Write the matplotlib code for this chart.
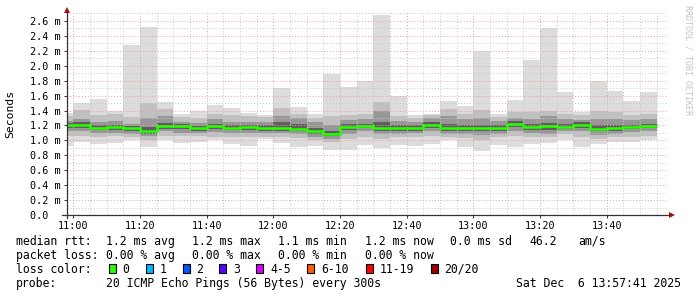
import numpy as np
import matplotlib
matplotlib.use("Agg")
import matplotlib.pyplot as plt
from matplotlib.patches import Rectangle
from matplotlib.ticker import MultipleLocator, FixedLocator

# %%
# smokeping data, 5 minute slots (minutes after 11:00, slot start)
slot_start = [-5, 0, 5, 10, 15, 20, 25, 30, 35, 40, 45, 50,
              55, 60, 65, 70, 75, 80, 85, 90, 95, 100, 105, 110,
              115, 120, 125, 130, 135, 140, 145, 150, 155, 160, 165, 170]
slot_len = 5

# rtt in ms (outer smoke -> inner smoke)
smoke_hi = [1.37, 1.50, 1.555, 1.39, 2.28, 2.52, 1.515, 1.35, 1.40, 1.475, 1.44, 1.37,
            1.34, 1.70, 1.45, 1.35, 1.89, 1.71, 1.80, 2.68, 1.60, 1.34, 1.35, 1.53,
            1.46, 2.20, 1.35, 1.54, 2.08, 2.51, 1.65, 1.38, 1.80, 1.66, 1.53, 1.65]
smoke_qh = [1.33, 1.41, 1.34, 1.35, 1.31, 1.50, 1.42, 1.31, 1.30, 1.36, 1.34, 1.33,
            1.31, 1.43, 1.36, 1.30, 1.32, 1.34, 1.36, 1.52, 1.33, 1.30, 1.34, 1.42,
            1.36, 1.41, 1.31, 1.38, 1.38, 1.40, 1.36, 1.34, 1.40, 1.38, 1.34, 1.35]
smoke_dh = [1.26, 1.28, 1.25, 1.26, 1.22, 1.30, 1.32, 1.25, 1.23, 1.28, 1.25, 1.24,
            1.25, 1.33, 1.30, 1.24, 1.20, 1.27, 1.28, 1.40, 1.26, 1.24, 1.30, 1.32,
            1.28, 1.30, 1.26, 1.30, 1.29, 1.32, 1.29, 1.27, 1.28, 1.28, 1.27, 1.28]
smoke_ch = [1.23, 1.24, 1.20, 1.21, 1.19, 1.18, 1.23, 1.22, 1.19, 1.22, 1.20, 1.20,
            1.20, 1.25, 1.22, 1.17, 1.13, 1.22, 1.22, 1.25, 1.20, 1.20, 1.25, 1.22,
            1.21, 1.21, 1.21, 1.26, 1.22, 1.23, 1.22, 1.24, 1.20, 1.21, 1.21, 1.22]
median = [1.21, 1.21, 1.17, 1.18, 1.16, 1.125, 1.19, 1.19, 1.16, 1.19, 1.17, 1.175,
          1.165, 1.17, 1.155, 1.12, 1.085, 1.18, 1.19, 1.17, 1.16, 1.17, 1.21, 1.17,
          1.16, 1.16, 1.165, 1.22, 1.18, 1.19, 1.18, 1.21, 1.155, 1.17, 1.18, 1.19]
smoke_cl = [1.16, 1.17, 1.14, 1.14, 1.13, 1.09, 1.15, 1.15, 1.13, 1.15, 1.14, 1.14,
            1.13, 1.13, 1.12, 1.09, 1.06, 1.14, 1.16, 1.13, 1.12, 1.13, 1.17, 1.13,
            1.12, 1.12, 1.12, 1.18, 1.14, 1.14, 1.15, 1.17, 1.12, 1.13, 1.15, 1.16]
smoke_dl = [1.12, 1.12, 1.10, 1.10, 1.09, 1.06, 1.12, 1.10, 1.10, 1.11, 1.10, 1.10,
            1.10, 1.10, 1.09, 1.05, 1.02, 1.09, 1.12, 1.08, 1.08, 1.10, 1.12, 1.09,
            1.08, 1.07, 1.09, 1.12, 1.10, 1.09, 1.12, 1.12, 1.07, 1.09, 1.11, 1.12]
smoke_ql = [1.06, 1.06, 1.05, 1.06, 1.04, 1.01, 1.06, 1.06, 1.06, 1.05, 1.04, 1.04,
            1.05, 1.04, 1.03, 1.00, 0.98, 1.02, 1.05, 1.02, 1.04, 1.05, 1.06, 1.05,
            1.03, 1.01, 1.04, 1.06, 1.05, 1.04, 1.08, 1.05, 1.02, 1.04, 1.05, 1.06]
smoke_lo = [0.93, 0.98, 0.95, 0.96, 1.005, 0.915, 1.005, 0.97, 0.98, 1.005, 0.95, 0.925,
            1.02, 0.97, 0.915, 0.93, 0.87, 0.87, 0.94, 0.90, 0.94, 0.925, 0.95, 1.00,
            0.915, 0.86, 0.94, 0.915, 0.95, 0.96, 1.005, 0.915, 0.945, 0.98, 0.98, 1.005]

x_ticks = [0, 20, 40, 60, 80, 100, 120, 140, 160]
x_labels = ["11:00", "11:20", "11:40", "12:00", "12:20", "12:40", "13:00", "13:20", "13:40"]
y_ticks = [0.0, 0.2, 0.4, 0.6, 0.8, 1.0, 1.2, 1.4, 1.6, 1.8, 2.0, 2.2, 2.4, 2.6]
y_labels = ["0.0  ", "0.2 m", "0.4 m", "0.6 m", "0.8 m", "1.0 m", "1.2 m",
            "1.4 m", "1.6 m", "1.8 m", "2.0 m", "2.2 m", "2.4 m", "2.6 m"]

loss_names = ["0", "1", "2", "3", "4-5", "6-10", "11-19", "20/20"]
loss_colors = ["#26ff00", "#00b8ff", "#0059ff", "#5e00ff", "#dd00ff", "#ff5e00", "#ff0000", "#a10000"]

# %%
W, H = 697, 297
mono = "DejaVu Sans Mono"
fig = plt.figure(figsize=(W / 100, H / 100), dpi=100)
fig.patch.set_facecolor("white")

# plot area in pixels
px_l, px_r, px_t, px_b = 67, 668, 12, 215
ax = fig.add_axes([px_l / W, 1 - px_b / H, (px_r - px_l) / W, (px_b - px_t) / H])
ax.set_xlim(-1.9, 178.4)
ax.set_ylim(0, 2.72)

edges = slot_start + [slot_start[-1] + slot_len]

# smoke layers, light outside to dark inside
layers = [(smoke_hi, smoke_lo, "#dcdcdc"),
          (smoke_qh, smoke_ql, "#c0c0c0"),
          (smoke_dh, smoke_dl, "#979797"),
          (smoke_ch, smoke_cl, "#5f5f5f")]
for top, bot, col in layers:
    ax.stairs(top, edges, baseline=bot, fill=True, color=col, lw=0, zorder=1)

ax.stairs(median, edges, baseline=None, color=loss_colors[0], lw=1.8, zorder=4)

# grid
ax.xaxis.set_major_locator(FixedLocator(x_ticks))
ax.xaxis.set_minor_locator(MultipleLocator(5))
ax.yaxis.set_major_locator(FixedLocator(y_ticks))
ax.yaxis.set_minor_locator(MultipleLocator(0.1))
ax.set_axisbelow(False)
ax.grid(which="minor", color="#c8c8c8", ls=(0, (1, 2)), lw=0.7)
ax.grid(which="major", color="#e9a0a0", ls=(0, (1, 2)), lw=0.7)

ax.set_xticklabels(x_labels, family=mono, fontsize=7.3)
ax.set_yticklabels(y_labels, family=mono, fontsize=7.3)
ax.tick_params(which="major", length=2, width=0.7, color="#333333", pad=2.5)
ax.tick_params(which="minor", length=0)
ax.tick_params(axis="y", pad=2.8)

for s in ax.spines.values():
    s.set_visible(False)

# axis lines with arrows, rrdtool style
def ax_x(px):
    return (px - px_l) / (px_r - px_l)

def ax_y(py):
    return (px_b - py) / (px_b - px_t)

ax.plot([0, 0], [ax_y(218), ax_y(10)], color="#333333", lw=0.9,
        transform=ax.transAxes, clip_on=False, zorder=5)
ax.plot([ax_x(62), ax_x(671)], [0, 0], color="#333333", lw=0.9,
        transform=ax.transAxes, clip_on=False, zorder=5)
ax.plot(0, ax_y(9.5), marker="^", ms=4, color="#a01010", mew=0,
        transform=ax.transAxes, clip_on=False, zorder=6)
ax.plot(ax_x(672), 0, marker=">", ms=4, color="#a01010", mew=0,
        transform=ax.transAxes, clip_on=False, zorder=6)

# labels
fig.text(10.5 / W, 1 - 114 / H, "Seconds", rotation=90, ha="center", va="center",
         family=mono, fontsize=8.2)
fig.text(688 / W, 1 - 60 / H, "RRDTOOL / TOBI OETIKER", rotation=270,
         ha="center", va="center", family=mono, fontsize=6, color="#c4c4c4")

# %%
# legend rows
fs = 8.3

def put(px, base, s, ha="left"):
    fig.text(px / W, 1 - base / H, s, family=mono, fontsize=fs, ha=ha, va="baseline")

put(15.5, 244.7, "median rtt:")
put(106.5, 244.7, "1.2 ms avg")
put(192.5, 244.7, "1.2 ms max")
put(278.5, 244.7, "1.1 ms min")
put(365, 244.7, "1.2 ms now")
put(450.5, 244.7, "0.0 ms sd")
put(529.5, 244.7, "46.2")
put(578.5, 244.7, "am/s")

put(15.5, 258.7, "packet loss:")
put(106.5, 258.7, "0.00 % avg")
put(192.5, 258.7, "0.00 % max")
put(278.5, 258.7, "0.00 % min")
put(365, 258.7, "0.00 % now")

put(15.5, 272.7, "loss color:")
box_x = [108.7, 145.7, 182.7, 219.3, 256, 306.7, 365.7, 430.7]
text_x = [122.5, 160, 196.5, 233, 270, 321.5, 379.5, 444.5]
for bx, tx, name, col in zip(box_x, text_x, loss_names, loss_colors):
    fig.patches.append(Rectangle((bx / W, 1 - 273.3 / H), 6.8 / W, 9 / H,
                                 transform=fig.transFigure, facecolor=col,
                                 edgecolor="black", lw=0.8))
    put(tx, 272.7, name)

put(15.5, 287, "probe:")
put(106.5, 287, "20 ICMP Echo Pings (56 Bytes) every 300s")
put(680.5, 287, "Sat Dec  6 13:57:41 2025", ha="right")

fig.savefig("out.png", dpi=100, facecolor="white")
